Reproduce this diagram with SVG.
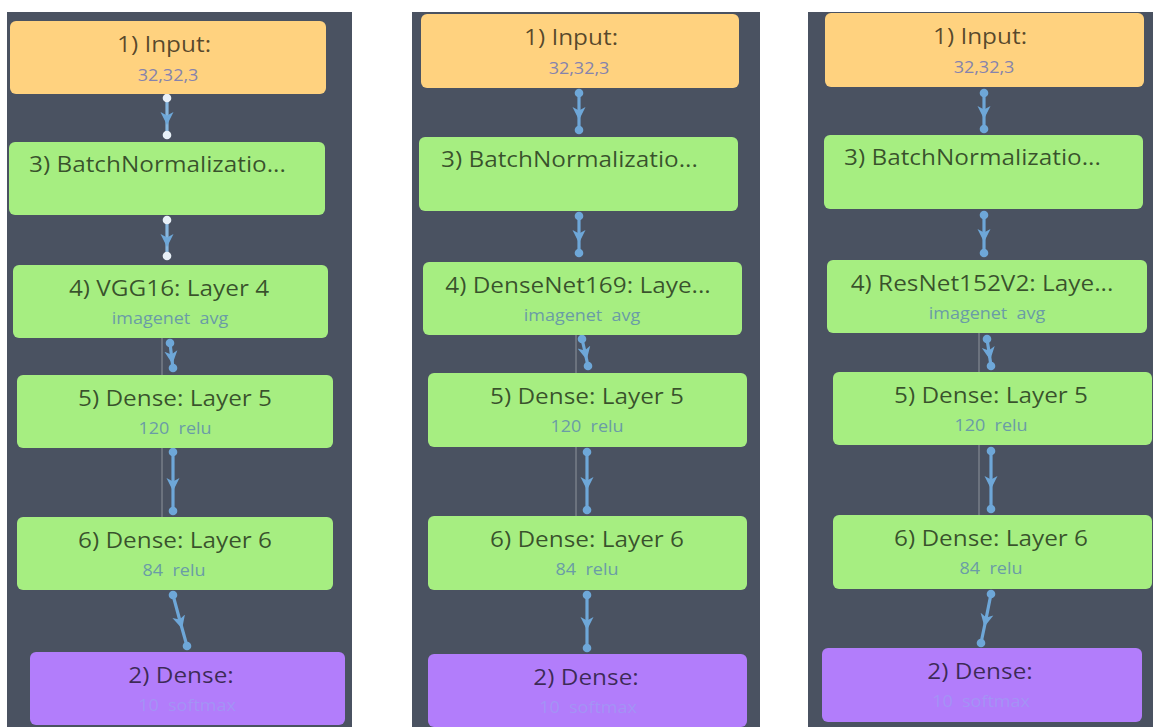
<svg xmlns="http://www.w3.org/2000/svg" width="1153" height="727" viewBox="0 0 1153 727">
  <style>
    .bg { fill: #ffffff; }
    .panel { fill: #4a5261; }
    .in { fill: #ffd27f; }
    .hid { fill: #a6ee81; }
    .out { fill: #b27dfb; }
    .t { font-family: "Open Sans", "Liberation Sans", sans-serif; font-size: 21px; fill: #000; fill-opacity: 0.66; text-anchor: middle; }
    .st { text-anchor: start; }
    .s { font-family: "Open Sans", "Liberation Sans", sans-serif; font-size: 15.5px; text-anchor: middle; white-space: pre; }
    .s-in { fill: #8583ad; }
    .s-hid { fill: #6a9ca6; }
    .s-out { fill: #a493f5; }
    .edge { stroke: #6ea7d8; stroke-width: 3.2; fill: none; marker-start: url(#dot); marker-mid: url(#tri); marker-end: url(#dot); }
    .edge.pale { stroke: #86b6de; marker-start: url(#dotw); marker-end: url(#dotw); }
    .guide { stroke: #8d939c; stroke-width: 1; }
  </style>
  <defs>
    <marker id="dot" markerUnits="userSpaceOnUse" viewBox="0 0 10 10" markerWidth="10" markerHeight="10" refX="5" refY="5">
      <circle cx="5" cy="5" r="4.3" fill="#6ea7d8"/>
    </marker>
    <marker id="dotw" markerUnits="userSpaceOnUse" viewBox="0 0 10 10" markerWidth="10" markerHeight="10" refX="5" refY="5">
      <circle cx="5" cy="5" r="4.3" fill="#e8f0f8"/>
    </marker>
    <marker id="tri" markerUnits="userSpaceOnUse" viewBox="0 0 13 14" markerWidth="13" markerHeight="14" refX="5" refY="7" orient="auto">
      <path d="M0,0.5 L13,7 L0,13.5 L3.5,7 Z" fill="#6ea7d8"/>
    </marker>
  </defs>

  <rect class="bg" x="0" y="0" width="1153" height="727"/>

  <!-- VGG16 model -->
  <g id="model-vgg16">
    <rect class="panel" x="7" y="12" width="345" height="715"/>
    <g id="links-vgg16">
      <line class="guide" x1="162" y1="338" x2="162" y2="517"/>
      <polyline class="edge pale" points="167,98 167,117 167,135"/>
      <polyline class="edge pale" points="167,220 167,239 167,256"/>
      <polyline class="edge" points="170,343 171.5,356 173,368"/>
      <polyline class="edge" points="173,452 173,483 173,511"/>
      <polyline class="edge" points="173,595 180,621 187,646"/>
    </g>
    <g id="vgg16-input">
      <rect class="in" x="10" y="21" width="316" height="73" rx="6"/>
      <text class="t" transform="translate(164 52) scale(1.16 1)">1) Input:</text>
      <text class="s s-in" transform="translate(168 81) scale(1.16 1)">32,32,3</text>
    </g>
    <g id="vgg16-batchnorm">
      <rect class="hid" x="9" y="142" width="316" height="73" rx="6"/>
      <text class="t st" transform="translate(29 172) scale(1.16 1)">3) BatchNormalizatio...</text>
    </g>
    <g id="vgg16-base">
      <rect class="hid" x="13" y="265" width="315" height="73" rx="6"/>
      <text class="t" transform="translate(169 296) scale(1.16 1)">4) VGG16: Layer 4</text>
      <text class="s s-hid" transform="translate(170 324) scale(1.16 1)">imagenet  avg</text>
    </g>
    <g id="vgg16-dense5">
      <rect class="hid" x="17" y="375" width="316" height="73" rx="6"/>
      <text class="t" transform="translate(175 406) scale(1.16 1)">5) Dense: Layer 5</text>
      <text class="s s-hid" transform="translate(175 434) scale(1.16 1)">120  relu</text>
    </g>
    <g id="vgg16-dense6">
      <rect class="hid" x="17" y="517" width="316" height="73" rx="6"/>
      <text class="t" transform="translate(175 548) scale(1.16 1)">6) Dense: Layer 6</text>
      <text class="s s-hid" transform="translate(174 576) scale(1.16 1)">84  relu</text>
    </g>
    <g id="vgg16-output">
      <rect class="out" x="30" y="652" width="315" height="73" rx="6"/>
      <text class="t" transform="translate(181 683) scale(1.16 1)">2) Dense:</text>
      <text class="s s-out" transform="translate(187 711) scale(1.16 1)">10  softmax</text>
    </g>
  </g>

  <!-- DenseNet169 model -->
  <g id="model-densenet169">
    <rect class="panel" x="412" y="12" width="348" height="715"/>
    <g id="links-densenet169">
      <line class="guide" x1="576" y1="335" x2="576" y2="516"/>
      <polyline class="edge" points="579,93 579,112 579,130"/>
      <polyline class="edge" points="579,216 579,235 579,253"/>
      <polyline class="edge" points="582,339 585,352 588,366"/>
      <polyline class="edge" points="587,452 587,482 587,510"/>
      <polyline class="edge" points="587,595 587,622 587,648"/>
    </g>
    <g id="densenet169-input">
      <rect class="in" x="421" y="14" width="318" height="74" rx="6"/>
      <text class="t" transform="translate(571 45) scale(1.16 1)">1) Input:</text>
      <text class="s s-in" transform="translate(579 74) scale(1.16 1)">32,32,3</text>
    </g>
    <g id="densenet169-batchnorm">
      <rect class="hid" x="419" y="137" width="319" height="74" rx="6"/>
      <text class="t st" transform="translate(441 167) scale(1.16 1)">3) BatchNormalizatio...</text>
    </g>
    <g id="densenet169-base">
      <rect class="hid" x="423" y="262" width="319" height="73" rx="6"/>
      <text class="t" transform="translate(578 293) scale(1.16 1)">4) DenseNet169: Laye...</text>
      <text class="s s-hid" transform="translate(582 321) scale(1.16 1)">imagenet  avg</text>
    </g>
    <g id="densenet169-dense5">
      <rect class="hid" x="428" y="373" width="319" height="74" rx="6"/>
      <text class="t" transform="translate(587 404) scale(1.16 1)">5) Dense: Layer 5</text>
      <text class="s s-hid" transform="translate(587 432) scale(1.16 1)">120  relu</text>
    </g>
    <g id="densenet169-dense6">
      <rect class="hid" x="428" y="516" width="319" height="74" rx="6"/>
      <text class="t" transform="translate(587 547) scale(1.16 1)">6) Dense: Layer 6</text>
      <text class="s s-hid" transform="translate(587 575) scale(1.16 1)">84  relu</text>
    </g>
    <g id="densenet169-output">
      <rect class="out" x="428" y="654" width="319" height="73" rx="6"/>
      <text class="t" transform="translate(586 685) scale(1.16 1)">2) Dense:</text>
      <text class="s s-out" transform="translate(588 713) scale(1.16 1)">10  softmax</text>
    </g>
  </g>

  <!-- ResNet152V2 model -->
  <g id="model-resnet152v2">
    <rect class="panel" x="808" y="12" width="345" height="715"/>
    <g id="links-resnet152v2">
      <line class="guide" x1="979" y1="333" x2="979" y2="515"/>
      <polyline class="edge" points="984,93 984,111 984,129"/>
      <polyline class="edge" points="984,215 984,234 984,253"/>
      <polyline class="edge" points="987,339 989,352 991,366"/>
      <polyline class="edge" points="991,451 991,481 991,509"/>
      <polyline class="edge" points="991,594 986,619 981,643"/>
    </g>
    <g id="resnet152v2-input">
      <rect class="in" x="825" y="13" width="319" height="74" rx="6"/>
      <text class="t" transform="translate(980 44) scale(1.16 1)">1) Input:</text>
      <text class="s s-in" transform="translate(984 73) scale(1.16 1)">32,32,3</text>
    </g>
    <g id="resnet152v2-batchnorm">
      <rect class="hid" x="824" y="135" width="319" height="74" rx="6"/>
      <text class="t st" transform="translate(844 165) scale(1.16 1)">3) BatchNormalizatio...</text>
    </g>
    <g id="resnet152v2-base">
      <rect class="hid" x="827" y="260" width="320" height="73" rx="6"/>
      <text class="t" transform="translate(982 291) scale(1.16 1)">4) ResNet152V2: Laye...</text>
      <text class="s s-hid" transform="translate(987 319) scale(1.16 1)">imagenet  avg</text>
    </g>
    <g id="resnet152v2-dense5">
      <rect class="hid" x="833" y="372" width="319" height="73" rx="6"/>
      <text class="t" transform="translate(991 403) scale(1.16 1)">5) Dense: Layer 5</text>
      <text class="s s-hid" transform="translate(991 431) scale(1.16 1)">120  relu</text>
    </g>
    <g id="resnet152v2-dense6">
      <rect class="hid" x="833" y="515" width="319" height="74" rx="6"/>
      <text class="t" transform="translate(991 546) scale(1.16 1)">6) Dense: Layer 6</text>
      <text class="s s-hid" transform="translate(991 574) scale(1.16 1)">84  relu</text>
    </g>
    <g id="resnet152v2-output">
      <rect class="out" x="822" y="648" width="320" height="74" rx="6"/>
      <text class="t" transform="translate(980 679) scale(1.16 1)">2) Dense:</text>
      <text class="s s-out" transform="translate(981 707) scale(1.16 1)">10  softmax</text>
    </g>
  </g>
</svg>
